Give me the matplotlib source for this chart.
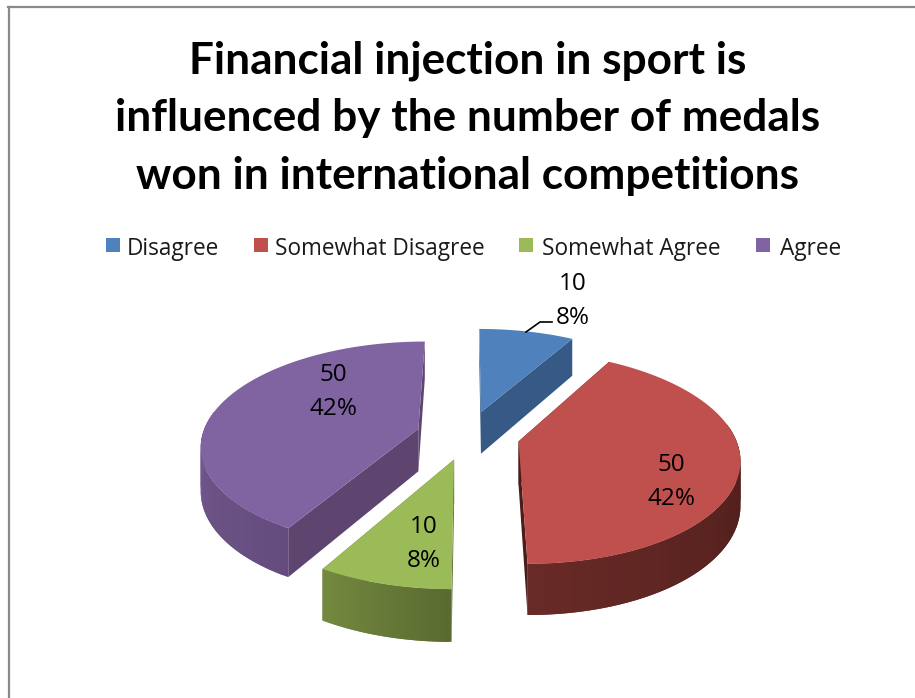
"""3D exploded pie: Financial injection in sport."""
import numpy as np
import matplotlib
matplotlib.use("Agg")
import matplotlib.pyplot as plt
from matplotlib.patches import Polygon, Rectangle
from matplotlib.colors import to_rgb

TITLE_LINES = ["Financial injection in sport is",
               "influenced by the number of medals",
               "won in international competitions"]
CATEGORIES = ["Disagree", "Somewhat Disagree", "Somewhat Agree", "Agree"]
VALUES = [10, 50, 10, 50]

TOP = ["#4f81bd", "#c0504d", "#9bbb59", "#8064a2"]
CUT = ["#365a85", "#4a1c1a", "#5c6d32", "#5d4570"]
# 外周の色（角度の小さい側, 大きい側）
WALL_A = ["#365a85", "#4a1c1a", "#5a6a30", "#644d7e"]
WALL_B = ["#365a85", "#682a26", "#74893f", "#75598f"]

# 投影パラメータ（px）
CX, CY, RX, RY = 468, 435, 216, 102
EXPLODE = 0.24
PERSP = 0.15
DEPTH = 43

LEGEND_SWATCH_X = [106, 254, 519, 756]
LEGEND_TEXT_X = [127, 275, 542, 780]
LABEL_XY = [(573, 301), (671, 482), (424, 544), (333, 392)]


def project(x, y, z=0.0):
    s = 1 / (1 + PERSP * y)
    return CX + RX * x * s, CY - RY * y * s + z * DEPTH * s


def corner(a, mid, r=1.0):
    x = EXPLODE * np.sin(mid) + r * np.sin(a)
    y = EXPLODE * np.cos(mid) + r * np.cos(a)
    return x, y


def draw_slice(ax, a0, a1, i):
    mid = (a0 + a1) / 2
    ap = corner(a0, mid, 0)
    arc = np.linspace(a0, a1, 120)
    # 切断面
    for a in (a0, a1):
        e = corner(a, mid)
        pts = [project(*ap), project(*e), project(*e, 1), project(*ap, 1)]
        ax.add_patch(Polygon(pts, fc=CUT[i], ec="none"))
    # 外周（手前側だけ）。次の帯と重ねて継ぎ目を消す
    lo = max(a0, np.radians(80))
    hi = min(a1, np.radians(280))
    if hi > lo:
        edges = np.linspace(lo, hi, 50)
        c0, c1 = np.array(to_rgb(WALL_A[i])), np.array(to_rgb(WALL_B[i]))
        for k in range(len(edges) - 1):
            t = k / (len(edges) - 2)
            col = tuple(c0 + (c1 - c0) * t)
            seg = np.linspace(edges[k], edges[min(k + 2, len(edges) - 1)], 5)
            up = [project(*corner(a, mid)) for a in seg]
            dn = [project(*corner(a, mid), 1) for a in seg[::-1]]
            ax.add_patch(Polygon(up + dn, fc=col, ec="none"))
    # 上面
    pts = [project(*ap)] + [project(*corner(a, mid)) for a in arc]
    ax.add_patch(Polygon(pts, fc=TOP[i], ec="none"))


fig = plt.figure(figsize=(9.15, 6.98), dpi=100)
ax = fig.add_axes([0, 0, 1, 1])
ax.set_xlim(0, 915)
ax.set_ylim(698, 0)
ax.axis("off")

# 枠
ax.plot([9, 9], [698, 7], color="#8a8a8a", lw=1.6)
ax.plot([8, 915], [7, 7], color="#8a8a8a", lw=1.6)

for line, y in zip(TITLE_LINES, [60.5, 118.5, 176.5]):
    ax.text(468, y, line, ha="center", va="center", fontsize=31.8, fontweight="bold",
            family="Lato", color="black")

for i, name in enumerate(CATEGORIES):
    ax.add_patch(Rectangle((LEGEND_SWATCH_X[i], 238), 14, 14, fc=TOP[i], ec="none"))
    ax.text(LEGEND_TEXT_X[i], 249, name, ha="left", va="center", fontsize=16.3,
            family="Open Sans", color="#1a1a1a")

total = sum(VALUES)
angles = np.radians(np.concatenate([[0], np.cumsum(VALUES)]) / total * 360)
for i in [0, 3, 1, 2]:  # 奥から手前へ
    draw_slice(ax, angles[i], angles[i + 1], i)

ax.plot([526, 540, 552], [332, 322, 322], color="black", lw=1.2)
for i, (x, y) in enumerate(LABEL_XY):
    ax.text(x, y, f"{VALUES[i]}\n{VALUES[i] / total:.0%}", ha="center", va="center",
            fontsize=17.5, family="Open Sans", color="black", linespacing=1.55)

fig.savefig("out.png", dpi=100)
